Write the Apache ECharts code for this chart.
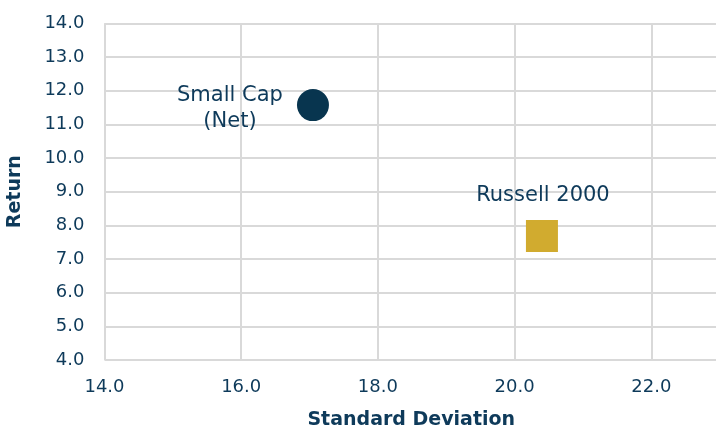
<!DOCTYPE html>
<html>
<head>
<meta charset="utf-8">
<script src="https://cdn.jsdelivr.net/npm/echarts@6/dist/echarts.min.js"></script>
<style>
  html, body { margin: 0; padding: 0; background: #fff; }
  #chart { width: 716px; height: 429px; }
</style>
</head>
<body>
<div id="chart"></div>
<script>
// risk / return points
var names = ['Small Cap\n(Net)', 'Russell 2000']
var stdDev = [17.05, 20.4]
var returns = [11.57, 7.68]

var textColor = '#0e3a5a'
var fontFam = 'DejaVu Sans'

var chart = echarts.init(document.getElementById('chart'))

var option = {
    animation: false,
    // axis runs past the right edge so the last column stays open
    grid: { left: 104.5, top: 23.3, right: -72, bottom: 69, outerBoundsMode: 'none', containLabel: false },
    xAxis: {
        type: 'value',
        min: 14, max: 24, interval: 2,
        name: 'Standard Deviation',
        nameLocation: 'middle',
        nameGap: 51,
        nameTextStyle: {
            color: textColor, fontSize: 19, fontWeight: 'bold', fontFamily: fontFam,
            padding: [0, 70, 0, 0]
        },
        axisLine: { show: false },
        axisTick: { show: false },
        axisLabel: {
            color: textColor, fontSize: 18, fontFamily: fontFam, margin: 18,
            formatter: function (v) { return v.toFixed(1) }
        },
        splitLine: { lineStyle: { color: '#d9d9d9', width: 2 } }
    },
    yAxis: {
        type: 'value',
        min: 4, max: 14, interval: 1,
        name: 'Return',
        nameLocation: 'middle',
        nameGap: 80,
        nameTextStyle: { color: textColor, fontSize: 19, fontWeight: 'bold', fontFamily: fontFam },
        axisLine: { show: false },
        axisTick: { show: false },
        axisLabel: {
            color: textColor, fontSize: 18, fontFamily: fontFam, margin: 20,
            formatter: function (v) { return v.toFixed(1) }
        },
        splitLine: { lineStyle: { color: '#d9d9d9', width: 2 } }
    },
    series: [
        {
            type: 'scatter',
            symbol: 'circle',
            symbolSize: 32,
            itemStyle: { color: '#08354f', opacity: 1 },
            data: [[stdDev[0], returns[0]]],
            label: {
                show: true, position: 'inside', offset: [-83, 3],
                formatter: names[0],
                color: textColor, fontSize: 21, fontFamily: fontFam, lineHeight: 26
            }
        },
        {
            type: 'scatter',
            symbol: 'rect',
            symbolSize: 32,
            itemStyle: { color: '#d1ab2f', opacity: 1 },
            data: [[stdDev[1], returns[1]]],
            label: {
                show: true, position: 'inside', offset: [1, -41],
                formatter: names[1],
                color: textColor, fontSize: 21, fontFamily: fontFam
            }
        }
    ]
}

chart.setOption(option)
</script>
</body>
</html>
